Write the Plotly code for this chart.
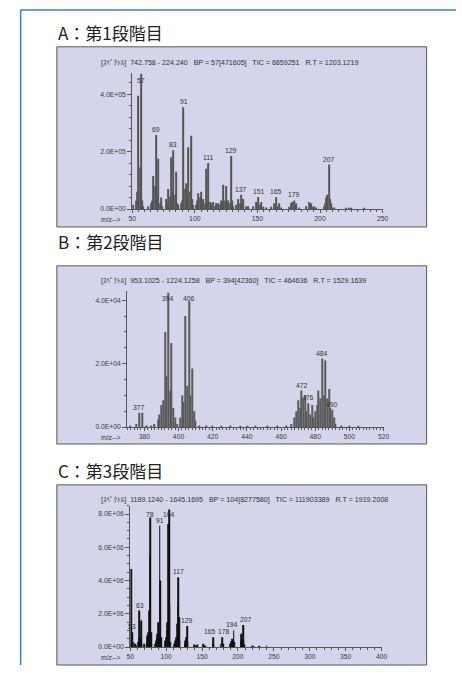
import plotly.graph_objects as go

W, H = 462, 673

# ---------------- data ----------------
titles = ["A：第1段階目", "B：第2段階目", "C：第3段階目"]
headers = [
    "[ｽﾍﾟｸﾄﾙ]  742.758 - 224.240   BP = 57[471605]   TIC = 6859251   R.T = 1203.1219",
    "[ｽﾍﾟｸﾄﾙ]  953.1025 - 1224.1258   BP = 394[42360]   TIC = 464636   R.T = 1529.1639",
    "[ｽﾍﾟｸﾄﾙ]  1189.1240 - 1645.1695   BP = 104[8277580]   TIC = 111903389   R.T = 1919.2008",
]

a_mz = [51, 53, 54, 55, 56, 57, 58, 59, 63, 65, 66, 67, 68, 69, 70, 71, 72, 73, 74,
        77, 78, 79, 80, 81, 82, 83, 84, 85, 86, 87, 89, 90, 91, 92, 93, 94, 95, 96, 97, 98, 99,
        101, 102, 103, 104, 105, 106, 107, 108, 109, 110, 111, 112, 113, 115, 116, 117,
        119, 120, 121, 122, 123, 124, 125, 126, 127, 128, 129, 130, 131, 133, 135, 136, 137,
        138, 139, 141, 143, 147, 149, 150, 151, 152, 153, 155, 157, 161, 163, 164, 165, 166,
        167, 169, 175, 177, 178, 179, 180, 181, 183, 189, 191, 192, 193, 194, 195, 197,
        203, 204, 205, 206, 207, 208, 209, 210, 211, 221, 223, 225, 235]
a_int = [15000, 30000, 60000, 395000, 145000, 471605, 30000, 10000, 10000, 20000, 30000, 115000, 80000, 258000, 50000, 175000, 20000, 40000, 10000,
         35000, 20000, 70000, 45000, 180000, 60000, 205000, 50000, 130000, 20000, 15000, 20000, 30000, 355000, 70000, 90000, 40000, 215000, 60000, 255000, 35000, 15000,
         15000, 30000, 55000, 40000, 60000, 30000, 35000, 20000, 140000, 30000, 160000, 25000, 20000, 25000, 10000, 20000,
         20000, 15000, 30000, 20000, 85000, 30000, 80000, 25000, 30000, 20000, 185000, 30000, 10000, 15000, 35000, 20000, 50000,
         25000, 35000, 10000, 10000, 10000, 25000, 20000, 42000, 15000, 25000, 8000, 5000, 8000, 20000, 10000, 42000, 10000,
         20000, 5000, 8000, 20000, 25000, 30000, 15000, 20000, 5000, 10000, 25000, 15000, 20000, 8000, 10000, 5000,
         10000, 20000, 40000, 50000, 155000, 35000, 20000, 5000, 5000, 4000, 3000, 2000, 2000]
a_labels = [57, 69, 83, 91, 111, 129, 137, 151, 165, 179, 207]

b_mz = [372, 375, 377, 379, 381, 384, 386, 388, 389, 390, 391, 392, 393, 394, 395, 396, 397, 398, 399,
        401, 402, 403, 404, 405, 406, 407, 408, 409, 410, 412, 416, 420, 425, 430, 436, 440, 445, 452,
        458, 463, 466, 468, 469, 470, 471, 472, 473, 474, 475, 476, 477, 478, 479, 480, 481, 482, 483,
        484, 485, 486, 487, 488, 489, 490, 491, 492, 495, 500, 505]
b_int = [500, 1000, 4500, 4500, 500, 500, 1000, 2500, 4000, 7000, 8500, 30000, 16000, 42360, 11500, 26500, 6000, 3000, 1000,
         3000, 10000, 8000, 35000, 13000, 39700, 10000, 18500, 5000, 2000, 500, 500, 300, 300, 500, 300, 300, 300, 500,
         500, 500, 1000, 3000, 5000, 8500, 6000, 11500, 9000, 10000, 5000, 7500, 4000, 7000, 3000, 5000, 7000, 11500, 9000,
         21600, 10000, 21000, 9000, 12000, 6000, 5500, 3000, 1000, 500, 300, 300]
b_labels = [377, 394, 406, 472, 476, 484, 490]

c_mz = [51, 52, 53, 55, 57, 59, 61, 62, 63, 64, 65, 66, 69, 73, 74, 75, 76, 77, 78, 79, 80,
        85, 86, 87, 88, 89, 90, 91, 92, 93, 98, 99, 100, 101, 102, 103, 104, 105, 106,
        111, 113, 114, 115, 116, 117, 118, 119, 126, 127, 128, 129, 130, 139, 141, 143,
        152, 153, 155, 165, 166, 176, 178, 179, 189, 191, 192, 193, 194, 195,
        204, 205, 206, 207, 208, 209, 219, 221, 230, 240]
c_int = [4700000, 500000, 900000, 300000, 200000, 100000, 300000, 600000, 2200000, 500000, 1600000, 200000, 200000, 300000, 700000, 900000, 2200000, 5500000, 7800000, 900000, 200000,
         200000, 400000, 600000, 800000, 1500000, 1000000, 7300000, 4000000, 600000, 200000, 400000, 600000, 1000000, 1500000, 7400000, 8277580, 2500000, 300000,
         200000, 400000, 600000, 1400000, 2400000, 4200000, 1800000, 400000, 200000, 400000, 600000, 1270000, 300000, 150000, 100000, 150000,
         200000, 100000, 100000, 600000, 200000, 200000, 600000, 200000, 200000, 350000, 500000, 400000, 1000000, 300000,
         400000, 800000, 500000, 1330000, 400000, 150000, 100000, 50000, 50000, 30000]
c_labels = [53, 63, 78, 91, 104, 117, 129, 165, 178, 194, 207]

a_xticks = [50, 100, 150, 200, 250]
b_xticks = [380, 400, 420, 440, 460, 480, 500, 520]
c_xticks = [50, 100, 150, 200, 250, 300, 350, 400]
a_yticks, a_ytext = [0, 200000, 400000], ["0.0E+00", "2.0E+05", "4.0E+05"]
b_yticks, b_ytext = [0, 20000, 40000], ["0.0E+00", "2.0E+04", "4.0E+04"]
c_yticks, c_ytext = [0, 2e6, 4e6, 6e6, 8e6], ["0.0E+00", "2.0E+06", "4.0E+06", "6.0E+06", "8.0E+06"]

# ---------------- layout helpers ----------------
def px(x):
    return x / W

def py(y):
    return 1 - y / H

# small horizontal nudges so neighbouring peak labels do not collide
label_shift = {(2, 165): -3, (2, 178): 2, (2, 194): -2, (2, 207): 3}

panels = [
    dict(mz=a_mz, val=a_int, labels=a_labels, xticks=a_xticks, yticks=a_yticks, ytext=a_ytext,
         xr=[50, 250], yr=[0, 475000], xdom=(131, 387), ydom=(210, 73), box=(54, 47, 432, 228),
         title_y=33, head_y=63, color="#555555", bw=0.8, xminor=5, yminor=40000),
    dict(mz=b_mz, val=b_int, labels=b_labels, xticks=b_xticks, yticks=b_yticks, ytext=b_ytext,
         xr=[370, 520], yr=[0, 43000], xdom=(126, 388), ydom=(429, 292), box=(54, 267, 432, 446),
         title_y=243, head_y=282, color="#5a5a5a", bw=0.6, xminor=2, yminor=5000),
    dict(mz=c_mz, val=c_int, labels=c_labels, xticks=c_xticks, yticks=c_yticks, ytext=c_ytext,
         xr=[50, 400], yr=[0, 8500000], xdom=(129, 386), ydom=(650, 508), box=(54, 487, 432, 668),
         title_y=473, head_y=502, color="#111111", bw=1.1, xminor=10, yminor=500000),
]

fig = go.Figure()
shapes = []
annotations = []
tickfont = dict(family="Liberation Sans, Arial, sans-serif", size=6.8, color="#3a3a3a")
smallfont = dict(family="Liberation Sans, Arial, sans-serif", size=6.8, color="#333")
headfont = dict(family="Liberation Sans, Noto Sans CJK JP, sans-serif", size=7.1, color="#333")

# outer blue frame
shapes.append(dict(type="line", xref="paper", yref="paper", x0=px(17), x1=px(462), y0=py(10), y1=py(10),
                   line=dict(color="#3b7fc4", width=1.5)))
shapes.append(dict(type="line", xref="paper", yref="paper", x0=px(17), x1=px(17), y0=py(10), y1=py(668),
                   line=dict(color="#3b7fc4", width=1.5)))

for i, p in enumerate(panels):
    n = "" if i == 0 else str(i + 1)
    xa, ya = "x" + n, "y" + n
    fig.add_trace(go.Bar(x=p["mz"], y=p["val"], width=p["bw"], xaxis=xa, yaxis=ya,
                         marker=dict(color=p["color"], line=dict(width=0)), showlegend=False,
                         hoverinfo="x+y"))
    x0, y0, x1, y1 = p["box"]
    shapes.append(dict(type="rect", xref="paper", yref="paper", x0=px(x0), x1=px(x1), y0=py(y1), y1=py(y0),
                       fillcolor="#d4d5ea", line=dict(color="#5a5a5a", width=1), layer="below"))
    fig.update_layout(**{
        "xaxis" + n: dict(domain=[px(p["xdom"][0]), px(p["xdom"][1])], range=p["xr"], anchor=ya,
                          tickvals=p["xticks"], ticktext=[str(t) for t in p["xticks"]],
                          showline=True, linecolor="#555", linewidth=1, ticks="outside", ticklen=3,
                          tickcolor="#555", showgrid=False, zeroline=False, tickfont=tickfont,
                          minor=dict(dtick=p["xminor"], ticks="outside", ticklen=2, tickcolor="#555"),
                          fixedrange=True),
        "yaxis" + n: dict(domain=[py(p["ydom"][0]), py(p["ydom"][1])], range=p["yr"], anchor=xa,
                          tickvals=p["yticks"], ticktext=p["ytext"],
                          showline=True, linecolor="#555", linewidth=1, ticks="outside", ticklen=4,
                          tickcolor="#555", showgrid=False, zeroline=False, tickfont=tickfont,
                          minor=dict(dtick=p["yminor"], ticks="outside", ticklen=2, tickcolor="#555"),
                          fixedrange=True),
    })
    # titles / headers
    annotations.append(dict(xref="paper", yref="paper", x=px(53), y=py(p["title_y"]), xanchor="left",
                            yanchor="middle", showarrow=False, text=titles[i],
                            font=dict(family="Noto Sans CJK JP", size=17, color="#222")))
    annotations.append(dict(xref="paper", yref="paper", x=px(97), y=py(p["head_y"]), xanchor="left",
                            yanchor="middle", showarrow=False, text=headers[i], font=headfont))
    annotations.append(dict(xref="paper", yref="paper", x=px(97), y=py(p["ydom"][0] + 10), xanchor="left",
                            yanchor="middle", showarrow=False, text="m/z-->", font=smallfont))
    # peak labels
    cap = p["yr"][1] * 0.9
    for m in p["labels"]:
        v = p["val"][p["mz"].index(m)]
        annotations.append(dict(xref=xa, yref=ya, x=m, y=min(v, cap), xanchor="center", yanchor="bottom",
                                xshift=label_shift.get((i, m), 0),
                                showarrow=False, text=str(m), font=smallfont))

fig.update_layout(width=W, height=H, margin=dict(l=0, r=0, t=0, b=0), paper_bgcolor="white",
                  plot_bgcolor="rgba(0,0,0,0)", shapes=shapes, annotations=annotations,
                  barmode="overlay", showlegend=False)

fig.write_html("out.html", config=dict(displayModeBar=False),
               post_script="document.body.style.margin='0';document.body.style.overflow='hidden';")
